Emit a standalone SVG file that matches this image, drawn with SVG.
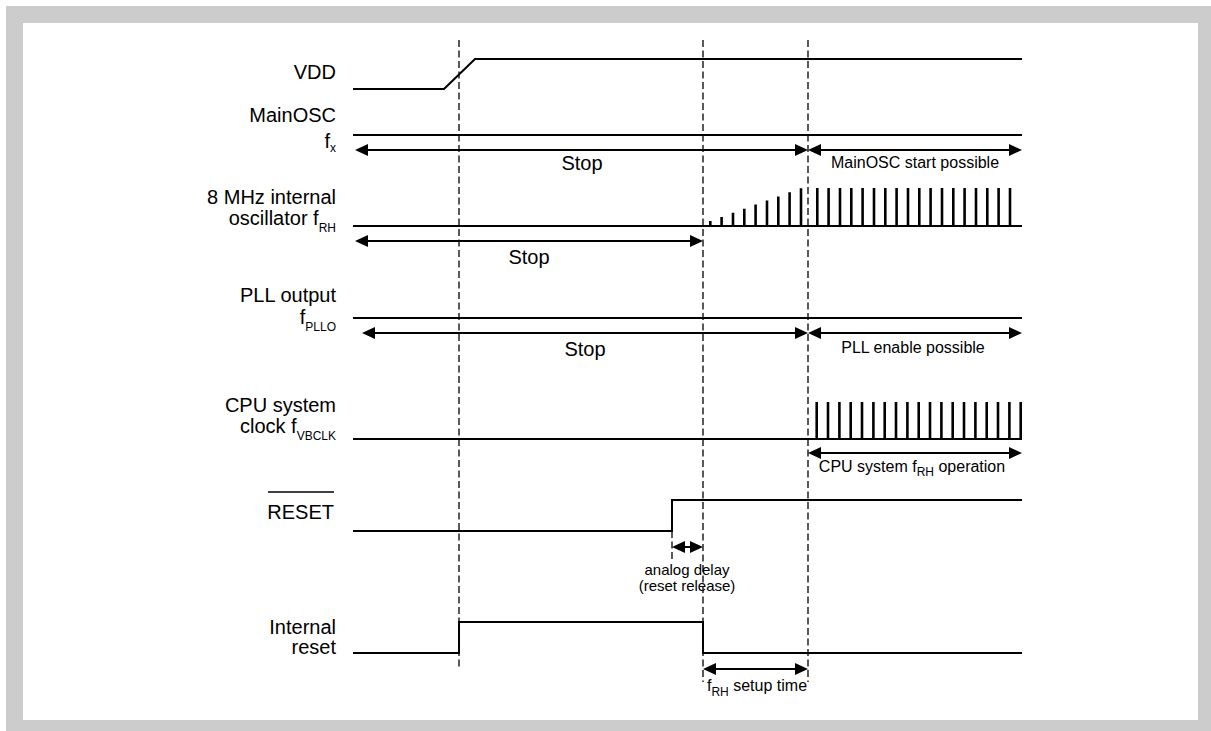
<svg xmlns="http://www.w3.org/2000/svg" width="1211" height="731" viewBox="0 0 1211 731">
<style>
text{font-family:"Liberation Sans",Arial,sans-serif;fill:#000}
.lbl{font-size:20px;text-anchor:end}
.sub{font-size:12px}
.big{font-size:20px;text-anchor:middle}
.sm{font-size:16px;text-anchor:middle}
.xs{font-size:15px;text-anchor:middle}
.sig{fill:none;stroke:#000;stroke-width:2}
.pulse{fill:none;stroke:#000;stroke-width:2.6}
.dash{fill:none;stroke:#000;stroke-width:1.3;stroke-dasharray:7 3.5}
.arr{fill:none;stroke:#000;stroke-width:2;marker-start:url(#ah);marker-end:url(#ah)}
</style>
<defs>
<marker id="ah" markerUnits="userSpaceOnUse" markerWidth="14" markerHeight="12" viewBox="0 0 14 12" refX="10" refY="6" orient="auto-start-reverse">
<path d="M0,0 L13,6 L0,12 Z" fill="#000"/>
</marker>
</defs>
<rect x="6" y="6" width="1205" height="725" fill="#cccccc"/>
<rect x="23" y="23" width="1175" height="697" fill="#fff"/>

<g id="vdd">
<text class="lbl" x="336" y="79">VDD</text>
<path class="sig" d="M353,89 H444 L475,59 H1022"/>
</g>

<g id="mainosc">
<text class="lbl" x="336" y="122">MainOSC</text>
<text class="lbl" x="336" y="148">f<tspan class="sub" dy="4">x</tspan></text>
<path class="sig" d="M353,135 H1022"/>
<text class="big" x="582" y="170">Stop</text>
<text class="sm" x="915" y="168">MainOSC start possible</text>
</g>

<g id="osc8">
<text class="lbl" x="336" y="204">8 MHz internal</text>
<text class="lbl" x="336" y="225">oscillator f<tspan class="sub" dy="7">RH</tspan></text>
<path class="sig" d="M353,226 H1022"/>
<path class="pulse" d="M710.3,226V221 M721.6,226V216.9 M733,226V212.8 M744.3,226V208.7 M755.6,226V204.6 M767,226V200.5 M778.3,226V196.4 M789.6,226V192.3 M801,226V188.2 M817.3,226V188 M828.6,226V188 M840,226V188 M851.3,226V188 M862.6,226V188 M874,226V188 M885.3,226V188 M896.6,226V188 M908,226V188 M919.3,226V188 M930.6,226V188 M942,226V188 M953.3,226V188 M964.6,226V188 M976,226V188 M987.3,226V188 M998.6,226V188 M1010,226V188"/>
<text class="big" x="529" y="264">Stop</text>
</g>

<g id="pll">
<text class="lbl" x="336" y="302">PLL output</text>
<text class="lbl" x="336" y="324">f<tspan class="sub" dy="7">PLLO</tspan></text>
<path class="sig" d="M353,318 H1022"/>
<text class="big" x="585" y="356">Stop</text>
<text class="sm" x="913" y="353">PLL enable possible</text>
</g>

<g id="cpu">
<text class="lbl" x="336" y="412">CPU system</text>
<text class="lbl" x="336" y="433">clock f<tspan class="sub" dy="7">VBCLK</tspan></text>
<path class="sig" d="M353,439 H1022"/>
<path class="pulse" d="M816.7,439V402 M828,439V402 M839.4,439V402 M850.7,439V402 M862,439V402 M873.4,439V402 M884.7,439V402 M896,439V402 M907.4,439V402 M918.7,439V402 M930,439V402 M941.4,439V402 M952.7,439V402 M964,439V402 M975.4,439V402 M986.7,439V402 M998,439V402 M1009.4,439V402 M1020.7,439V402"/>
<text class="sm" x="912" y="472">CPU system f<tspan class="sub" font-size="10" dy="4">RH</tspan><tspan dy="-4"> operation</tspan></text>
</g>

<g id="reset">
<text class="lbl" x="334" y="519">RESET</text>
<line x1="268" y1="492" x2="334" y2="492" stroke="#000" stroke-width="1.5"/>
<path class="sig" d="M353,531 H672 V500 H1022"/>
<text class="xs" x="687" y="575">analog delay</text>
<text class="xs" x="687" y="591">(reset release)</text>
</g>

<g id="intreset">
<text class="lbl" x="336" y="634">Internal</text>
<text class="lbl" x="336" y="654">reset</text>
<path class="sig" d="M353,653 H459 V622 H703 V653 H1022"/>
<text class="sm" x="757" y="691">f<tspan class="sub" font-size="10" dy="5">RH</tspan><tspan dy="-5"> setup time</tspan></text>
</g>

<g id="connectors">
<line class="dash" x1="459" y1="40" x2="459" y2="668"/>
<line class="dash" x1="703" y1="40" x2="703" y2="682"/>
<line class="dash" x1="808" y1="40" x2="808" y2="682"/>
<line class="dash" x1="672" y1="531" x2="672" y2="562"/>
<line class="arr" x1="358" y1="150" x2="805" y2="150"/>
<line class="arr" x1="811" y1="150" x2="1019" y2="150"/>
<line class="arr" x1="358" y1="241" x2="700" y2="241"/>
<line class="arr" x1="365" y1="333" x2="805" y2="333"/>
<line class="arr" x1="811" y1="333" x2="1019" y2="333"/>
<line class="arr" x1="811" y1="453" x2="1019" y2="453"/>
<line class="arr" x1="675" y1="547" x2="700" y2="547"/>
<line class="arr" x1="706" y1="669" x2="805" y2="669"/>
</g>
</svg>
